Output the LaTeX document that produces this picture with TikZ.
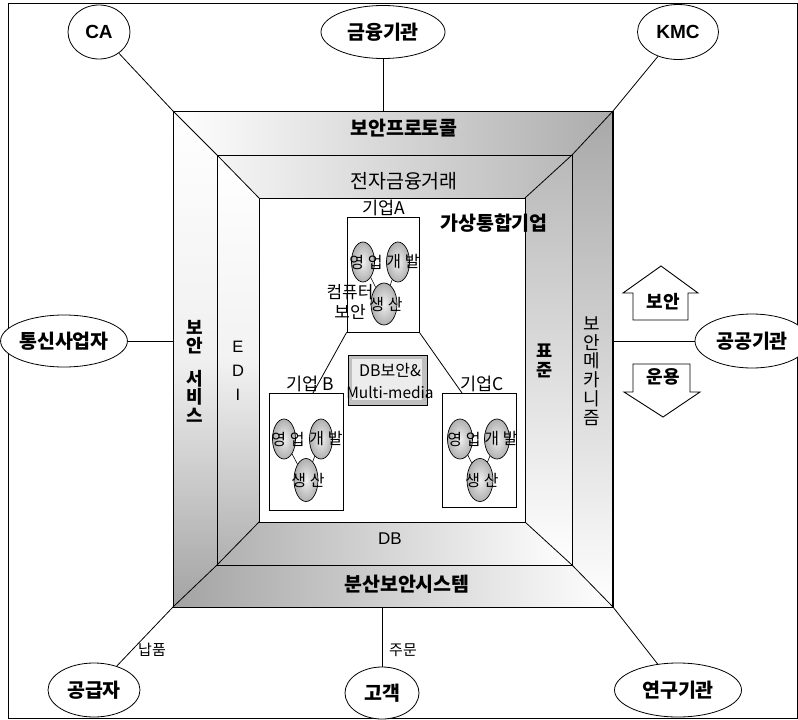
\documentclass[tikz,border=0pt]{standalone}
\usepackage{fontspec}
\setmainfont{Liberation Sans}
\newfontfamily\kr{Noto Sans CJK KR}
\usetikzlibrary{shapes.geometric}
\begin{document}
\begin{tikzpicture}[x=1pt,y=-1pt,line width=0.9pt,
 bigell/.style={ellipse,draw,fill=white,inner sep=0pt,line width=0.8pt,font=\kr\bfseries\fontsize{19.5}{21}\selectfont},
 latell/.style={ellipse,draw,fill=white,inner sep=0pt,line width=0.8pt,font=\bfseries\fontsize{19}{20}\selectfont},
 bandlbl/.style={font=\kr\fontsize{19.5}{21}\selectfont,inner sep=0pt},
 bandbold/.style={font=\kr\bfseries\fontsize{19.5}{21}\selectfont,inner sep=0pt},
 vlbl/.style={font=\kr\fontsize{18}{18.7}\selectfont,inner sep=0pt,align=center},
 edge/.style={line width=0.8pt},
 cbox/.style={draw,fill=white,inner sep=0pt,line width=0.8pt},
 clbl/.style={font=\kr\fontsize{17.5}{19}\selectfont,inner sep=0pt},
 sell/.style={ellipse,draw,inner sep=0pt,minimum width=23pt,minimum height=40pt,inner color=gray!12,outer color=gray!62,line width=0.7pt},
 stxt/.style={font=\kr\fontsize{16}{18}\selectfont,inner sep=0pt},
 small/.style={font=\kr\fontsize{15}{17}\selectfont,inner sep=0pt},
 arrowshape/.style={draw,fill=white,line width=0.9pt,line join=miter}
]
\useasboundingbox (0,0) rectangle (798,720);
\fill[white] (0,0) rectangle (798,720);
\draw[line width=1pt] (8,3) rectangle (797.5,718);

% square corners
\coordinate (Otl) at (173,111); \coordinate (Otr) at (613,111);
\coordinate (Obr) at (613,607); \coordinate (Obl) at (173,607);
\coordinate (Mtl) at (217,155); \coordinate (Mtr) at (572,155);
\coordinate (Mbr) at (572,565); \coordinate (Mbl) at (217,565);
\coordinate (Itl) at (259,198); \coordinate (Itr) at (525,198);
\coordinate (Ibr) at (525,522); \coordinate (Ibl) at (259,522);

% outer ring bands
\shade[left color=white,right color=gray!65] (Otl)--(Otr)--(Mtr)--(Mtl)--cycle;
\shade[top color=gray!68,bottom color=white] (Otr)--(Obr)--(Mbr)--(Mtr)--cycle;
\shade[left color=gray!72,right color=white] (Obl)--(Obr)--(Mbr)--(Mbl)--cycle;
\shade[top color=white,bottom color=gray!72,middle color=gray!12] (Otl)--(Mtl)--(Mbl)--(Obl)--cycle;
% middle ring bands
\shade[left color=gray!8,right color=gray!55] (Mtl)--(Mtr)--(Itr)--(Itl)--cycle;
\shade[top color=gray!55,bottom color=white] (Mtr)--(Mbr)--(Ibr)--(Itr)--cycle;
\shade[left color=gray!62,right color=white] (Mbl)--(Mbr)--(Ibr)--(Ibl)--cycle;
\shade[top color=white,bottom color=gray!62,middle color=gray!10] (Mtl)--(Itl)--(Ibl)--(Mbl)--cycle;

\draw (Otl) rectangle (Obr);
\draw (Mtl) rectangle (Mbr);
\draw[fill=white] (Itl) rectangle (Ibr);
\draw[line width=1.5pt] (Otr) -- (Obr);

% outer entities
\node[latell,minimum width=62pt,minimum height=54pt] (CA) at (99,32) {CA};
\node[bigell,minimum width=124pt,minimum height=53pt] (FIN) at (383,32) {금융기관};
\node[latell,minimum width=81pt,minimum height=55pt] (KMC) at (678,32) {KMC};
\node[bigell,minimum width=112pt,minimum height=52pt] (TEL) at (64,341) {통신사업자};
\node[bigell,minimum width=114pt,minimum height=54pt] (PUB) at (752,341) {공공기관};
\node[bigell,minimum width=92pt,minimum height=54pt] (SUP) at (94,690) {공급자};
\node[bigell,minimum width=74pt,minimum height=52pt] (CUS) at (382,693) {고객};
\node[bigell,minimum width=127pt,minimum height=54pt] (RES) at (678,690) {연구기관};

% connectors
\draw[edge] (CA) -- (Otl) -- (Mtl) -- (Itl);
\draw[edge] (KMC) -- (Otr) -- (Mtr) -- (Itr);
\draw[edge] (SUP) -- (Obl) -- (Mbl) -- (Ibl);
\draw[edge] (RES) -- (Obr) -- (Mbr) -- (Ibr);
\draw[edge] (FIN) -- (FIN |- Otl);
\draw[edge] (TEL) -- (TEL -| Otl);
\draw[edge] (PUB) -- (PUB -| Otr);
\draw[edge] (CUS) -- (CUS |- Obl);
\node[small] (nappum) at (152,650) {납품};
\node[small] (jumun) at (403,650) {주문};

% band labels
\node[bandbold] (bp) at (404,128) {보안프로토콜};
\node[bandlbl] (et) at (404,181) {전자금융거래};
\node[font=\fontsize{17}{18}\selectfont,inner sep=0pt] (db) at (390,539) {DB};
\node[bandbold] (bs) at (407,584) {분산보안시스템};
\node[vlbl,font=\kr\bfseries\fontsize{18}{18.5}\selectfont] (svc) at (195,371) {보\\안\\[14pt]서\\비\\스};
\node[align=center,inner sep=0pt,font=\fontsize{16.5}{24}\selectfont] (edi) at (238,371) {E\\D\\I};
\node[vlbl,font=\kr\bfseries\fontsize{17.5}{18.5}\selectfont] (std) at (545,361) {표\\준};
\node[vlbl] (mech) at (592,371) {보\\안\\메\\카\\니\\즘};

% arrows
\draw[arrowshape] (661,266) -- (698,293) -- (688,293) -- (688,320) -- (633,320) -- (633,293) -- (623,293) -- cycle;
\node[font=\kr\bfseries\fontsize{18}{19}\selectfont,inner sep=0pt] (up) at (663,302) {보안};
\draw[arrowshape] (633,364) -- (690,364) -- (690,392) -- (700,392) -- (663,417) -- (624,392) -- (633,392) -- cycle;
\node[font=\kr\bfseries\fontsize{18}{19}\selectfont,inner sep=0pt] (down) at (663,377) {운용};

% virtual enterprise
\node[bandbold] (vname) at (494,223) {가상통합기업};

\node[cbox,minimum width=72pt,minimum height=115pt] (A) at (383,274.5) {};
\node[cbox,minimum width=74pt,minimum height=117pt] (B) at (306,451.5) {};
\node[cbox,minimum width=74pt,minimum height=114pt] (C) at (479,450) {};
\node[clbl] (lA) at (384,208) {기업A};
\node[clbl] (lB) at (310,384) {기업 B};
\node[clbl] (lC) at (482,384) {기업C};
\coordinate (Bt) at (313,393);
\coordinate (Ct) at (462,393);
\draw[edge] (A.south west) -- (Bt);
\draw[edge] (A.south east) -- (Ct);

% DB box
\node[draw,fill=gray!50,inner sep=0pt,minimum width=79pt,minimum height=50pt,line width=0.8pt] (DBS) at (387.5,380) {};
\fill[gray!15] ([shift={(4,4)}]DBS.north west) rectangle ([shift={(-5,-5)}]DBS.south east);
\node[align=center,inner sep=0pt,font=\kr\fontsize{16}{22}\selectfont] (dbt) at (390,381) {DB보안\&\\{\fontsize{15.5}{22}\selectfont Multi-media}};

% enterprise A
\node[stxt,font=\kr\fontsize{17}{20}\selectfont,align=center] (comp) at (350,302) {컴퓨터\\보안};
\node[sell] (a1) at (363,262) {};
\node[sell] (a2) at (398,262) {};
\node[sell,minimum width=26pt,minimum height=42pt] (a3) at (384,304) {};
\draw[line width=0.6pt] (a1) -- (a3);
\draw[line width=0.6pt] (a2) -- (a3);
\node[stxt] (ta1) at (366,262) {영 업};
\node[stxt] (ta2) at (403,262) {개 발};
\node[stxt] (ta3) at (386,304) {생 산};

% enterprise B
\node[sell] (b1) at (284,439) {};
\node[sell] (b2) at (321,439) {};
\node[sell,minimum width=24pt,minimum height=43pt] (b3) at (306,480) {};
\draw[line width=0.6pt] (b1) -- (b3);
\draw[line width=0.6pt] (b2) -- (b3);
\node[stxt] (tb1) at (288,439) {영 업};
\node[stxt] (tb2) at (326,439) {개 발};
\node[stxt] (tb3) at (308,480) {생 산};

% enterprise C
\node[sell,minimum width=25pt] (c1) at (460,439) {};
\node[sell,minimum width=25pt] (c2) at (497,439) {};
\node[sell,minimum width=26pt,minimum height=43pt] (c3) at (480,480) {};
\draw[line width=0.6pt] (c1) -- (c3);
\draw[line width=0.6pt] (c2) -- (c3);
\node[stxt] (tc1) at (464,439) {영 업};
\node[stxt] (tc2) at (501,439) {개 발};
\node[stxt] (tc3) at (482,480) {생 산};
\end{tikzpicture}
\end{document}
